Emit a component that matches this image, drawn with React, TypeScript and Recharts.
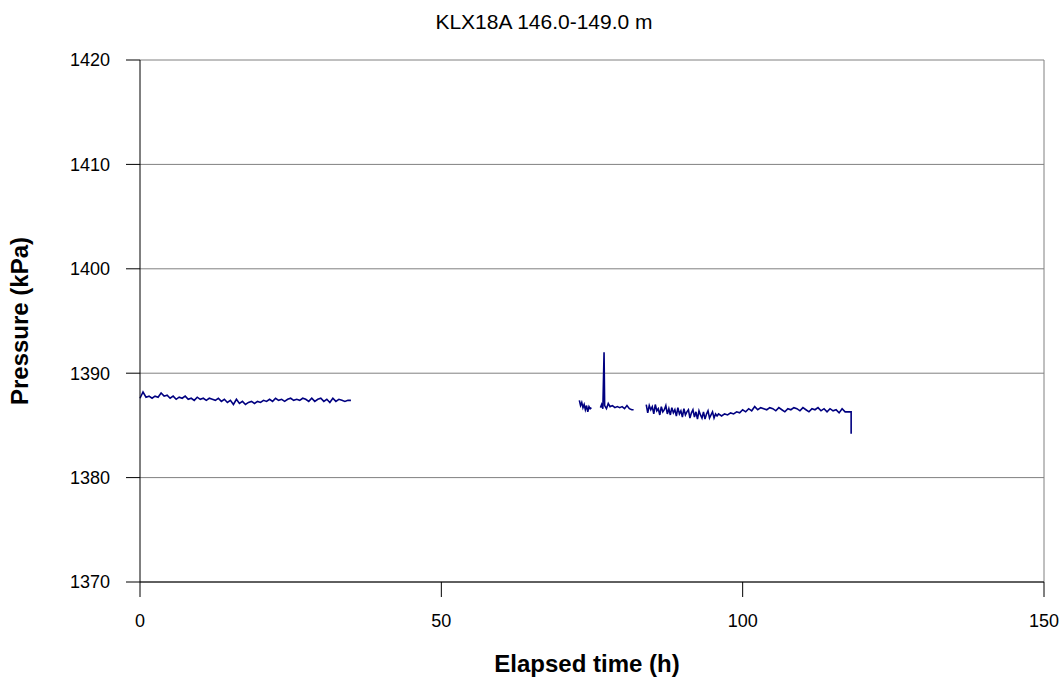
import { LineChart, Line, XAxis, YAxis, CartesianGrid, ReferenceLine } from 'recharts';

// #region Readings, one pair of arrays per logged section
const seg1Time = [
  0, 0.5, 1, 1.5, 2, 2.5, 3, 3.5, 4, 4.5, 5, 5.5, 6, 6.5, 7, 7.5, 8, 8.5, 9, 9.5,
  10, 10.5, 11, 11.5, 12, 12.5, 13, 13.5, 14, 14.5, 15, 15.5, 16, 16.5, 17, 17.5, 18, 18.5, 19, 19.5,
  20, 20.5, 21, 21.5, 22, 22.5, 23, 23.5, 24, 24.5, 25, 25.5, 26, 26.5, 27, 27.5, 28, 28.5, 29, 29.5,
  30, 30.5, 31, 31.5, 32, 32.5, 33, 33.5, 34, 34.5, 35,
];
const seg1Pressure = [
  1387.6, 1388.2, 1387.7, 1387.8, 1387.6, 1387.8, 1387.7, 1388.1, 1387.8, 1387.9,
  1387.6, 1387.8, 1387.5, 1387.7, 1387.6, 1387.8, 1387.5, 1387.6, 1387.4, 1387.7,
  1387.5, 1387.6, 1387.4, 1387.6, 1387.5, 1387.4, 1387.6, 1387.3, 1387.5, 1387.2,
  1387.4, 1387.0, 1387.5, 1387.1, 1387.3, 1387.0, 1387.2, 1387.3, 1387.1, 1387.3,
  1387.2, 1387.4, 1387.3, 1387.5, 1387.3, 1387.6, 1387.4, 1387.5, 1387.3, 1387.5,
  1387.6, 1387.4, 1387.5, 1387.4, 1387.6, 1387.5, 1387.3, 1387.6, 1387.3, 1387.5,
  1387.6, 1387.3, 1387.5, 1387.2, 1387.6, 1387.3, 1387.5, 1387.4, 1387.3, 1387.4,
  1387.4,
];

const seg2Time = [72.9, 73.1, 73.3, 73.5, 73.7, 73.9, 74.1, 74.3, 74.5, 74.7, 74.9];
const seg2Pressure = [1387.4, 1386.9, 1387.2, 1386.7, 1387.0, 1386.5, 1386.9, 1386.3, 1386.8, 1386.6, 1386.7];

const seg3Time = [
  76.4, 76.6, 76.8, 77.0, 77.1, 77.4, 77.7, 78.0, 78.4, 78.8, 79.2, 79.6, 80.0, 80.4, 80.8, 81.2, 81.6, 81.9,
];
const seg3Pressure = [
  1386.7, 1387.0, 1386.6, 1392.0, 1386.9, 1386.6, 1387.1, 1386.8, 1386.9, 1386.7, 1386.8, 1386.7,
  1386.8, 1386.6, 1386.9, 1386.6, 1386.5, 1386.5,
];

const seg4Time = [
  84, 84.25, 84.5, 84.75, 85, 85.25, 85.5, 85.75, 86, 86.25, 86.5, 86.75, 87, 87.25, 87.5, 87.75,
  88, 88.25, 88.5, 88.75, 89, 89.25, 89.5, 89.75, 90, 90.25, 90.5, 90.75, 91, 91.25, 91.5, 91.75,
  92, 92.25, 92.5, 92.75, 93, 93.25, 93.5, 93.75, 94, 94.25, 94.5, 94.75, 95, 95.25, 95.5, 95.75,
  96, 96.5, 97, 97.5, 98, 98.5, 99, 99.5, 100, 100.5, 101, 101.5, 102, 102.5, 103, 103.5,
  104, 104.5, 105, 105.5, 106, 106.5, 107, 107.5, 108, 108.5, 109, 109.5, 110, 110.5, 111, 111.5,
  112, 112.5, 113, 113.5, 114, 114.5, 115, 115.5, 116, 116.5, 117, 117.5, 118, 118,
];
const seg4Pressure = [
  1387.0, 1386.2, 1386.9, 1386.5, 1386.8, 1386.1, 1387.0, 1386.4, 1386.6, 1386.0, 1386.8, 1386.3,
  1386.5, 1386.9, 1386.1, 1386.6, 1386.0, 1386.7, 1386.2, 1386.5, 1385.9, 1386.7, 1386.1, 1386.4,
  1385.8, 1386.6, 1386.0, 1386.3, 1386.5, 1385.7, 1386.2, 1386.5, 1385.8, 1386.3, 1385.6, 1386.4,
  1386.0, 1385.7, 1386.3, 1385.6, 1386.1, 1386.4, 1385.7, 1386.0, 1386.3, 1385.7, 1386.1, 1385.9,
  1386.1, 1385.9, 1386.1, 1386.0, 1386.2, 1386.1, 1386.3, 1386.2, 1386.5, 1386.3, 1386.6, 1386.4,
  1386.8, 1386.5, 1386.7, 1386.6, 1386.5, 1386.7, 1386.6, 1386.4, 1386.7, 1386.5, 1386.3, 1386.6,
  1386.5, 1386.7, 1386.6, 1386.4, 1386.7, 1386.5, 1386.3, 1386.6, 1386.5, 1386.7, 1386.4, 1386.6,
  1386.3, 1386.6, 1386.4, 1386.5, 1386.2, 1386.6, 1386.3, 1386.3, 1386.3, 1384.2,
];

const xTicks = [0, 50, 100, 150];
const yTicks = [1370, 1380, 1390, 1400, 1410, 1420];
// #endregion

const segments = [
  [seg1Time, seg1Pressure],
  [seg2Time, seg2Pressure],
  [seg3Time, seg3Pressure],
  [seg4Time, seg4Pressure],
];

// flatten into one table, a null row between sections breaks the line
const data: { t: number; p: number | null }[] = [];
segments.forEach(([times, values], i) => {
  if (i > 0) data.push({ t: times[0] - 0.05, p: null });
  times.forEach((t, j) => data.push({ t, p: values[j] }));
});

const font = '"Liberation Sans", Arial, sans-serif';

export default function App() {
  return (
    <div style={{ position: 'absolute', left: 0, top: 0, width: 1061, height: 681, fontFamily: font, background: '#fff' }}>
      <div
        style={{
          position: 'absolute',
          left: 0,
          width: 1088,
          top: 11,
          fontSize: 21,
          lineHeight: '21px',
          textAlign: 'center',
          color: '#000',
        }}
      >
        KLX18A 146.0-149.0 m
      </div>
      <LineChart width={1061} height={681} data={data} margin={{ top: 60, right: 17, bottom: 0, left: 0 }}>
        <CartesianGrid vertical={false} stroke="#808080" />
        <ReferenceLine x={150} stroke="#808080" />
        <XAxis
          dataKey="t"
          type="number"
          domain={[0, 150]}
          ticks={xTicks}
          height={99}
          tickSize={15}
          tickMargin={17}
          stroke="#000"
          tick={{ fontSize: 18, fill: '#000' }}
          label={{ value: 'Elapsed time (h)', position: 'insideBottom', offset: 9, dx: -5, fontSize: 24, fontWeight: 'bold', fill: '#000' }}
        />
        <YAxis
          type="number"
          domain={[1370, 1420]}
          ticks={yTicks}
          width={140}
          tickSize={14}
          tickMargin={16}
          stroke="#000"
          tick={{ fontSize: 18, fill: '#000' }}
          label={{
            value: 'Pressure (kPa)',
            angle: -90,
            position: 'insideLeft',
            offset: 19,
            fontSize: 24,
            fontWeight: 'bold',
            fill: '#000',
            style: { textAnchor: 'middle' },
          }}
        />
        <Line dataKey="p" stroke="#000080" strokeWidth={1.6} dot={false} connectNulls={false} isAnimationActive={false} />
      </LineChart>
    </div>
  );
}
